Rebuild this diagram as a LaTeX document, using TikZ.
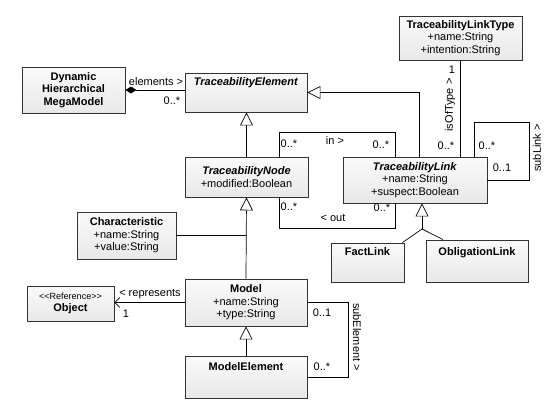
\documentclass[tikz,border=0pt]{standalone}
\usepackage{fontspec}
\setmainfont{Liberation Sans}
\usetikzlibrary{arrows.meta,calc,positioning}

\tikzset{
  cls/.style={draw=black!80, line width=0.9pt, top color=black!2, bottom color=black!9,
    align=center, inner sep=3pt},
  headcls/.style 2 args={cls, text height=#1, text depth=#2},
  gen/.style={-{Triangle[open,length=13pt,width=13pt,fill=white]}},
  lbl/.style={inner sep=1pt},
}

\begin{document}
\begin{tikzpicture}[x=1pt,y=-1pt,line width=0.7pt,font=\fontsize{11}{12.5}\selectfont]
\useasboundingbox (0,0) rectangle (558,415);
\node[cls,minimum width=103pt,minimum height=46pt] (dhmm) at (73.5,90) {\textbf{Dynamic}\\\textbf{Hierarchical}\\\textbf{MegaModel}};
\node[headcls={9.5pt}{23.5pt},minimum width=122pt,minimum height=39pt] (te) at (246,92.5) {\textbf{\textit{TraceabilityElement}}};
\node[cls,minimum width=123pt,minimum height=40pt] (tn) at (246.5,177) {\textbf{\textit{TraceabilityNode}}\\+modified:Boolean};
\node[cls,minimum width=144pt,minimum height=46pt] (tl) at (415,180) {\textbf{\textit{TraceabilityLink}}\\+name:String\\+suspect:Boolean};
\node[cls,minimum width=123pt,minimum height=44pt] (tlt) at (460.5,38) {\textbf{TraceabilityLinkType}\\+name:String\\+intention:String};
\node[cls,minimum width=99pt,minimum height=47pt] (char) at (126.5,235.5) {\textbf{Characteristic}\\+name:String\\+value:String};
\node[cls,minimum width=122pt,minimum height=47pt] (model) at (246,302.5) {\textbf{Model}\\+name:String\\+type:String};
\node[cls,minimum width=87pt,minimum height=35pt] (obj) at (70.5,303.5) {{\fontsize{9}{11}\selectfont{<}{<}Reference{>}{>}}\\\textbf{Object}};
\node[headcls={11.5pt}{24.5pt},minimum width=122pt,minimum height=42pt] (me) at (246,377) {\textbf{ModelElement}};
\node[headcls={9.5pt}{23.5pt},minimum width=73pt,minimum height=39pt] (fl) at (367.5,262.5) {\textbf{FactLink}};
\node[headcls={11.5pt}{23.5pt},minimum width=102pt,minimum height=42pt] (ol) at (477,261) {\textbf{ObligationLink}};

\draw[{Diamond[length=11pt,width=7pt]}-] (dhmm.east) -- (dhmm.east -| te.west);
\node[lbl] (elem) at (156,82) {elements >};
\node[lbl] (elemm) at (172,101) {0..*};

\draw[gen] (tn.north) -- (tn.north |- te.south);
\draw[gen] ([xshift=4pt]tl.north) |- (te.east);

\draw ([xshift=33pt]tn.north) -- ++(0,-24) -| ([xshift=-20pt]tl.north);
\node[lbl] (inm1) at (289,144) {0..*};
\node[lbl] (inlab) at (335,141) {in >};
\node[lbl] (inm2) at (381,145) {0..*};
\draw ([xshift=33pt]tn.south) -- ++(0,31) -| ([xshift=-20pt]tl.south);
\node[lbl] (outm1) at (289,207) {0..*};
\node[lbl] (outlab) at (333,218) {< out};
\node[lbl] (outm2) at (382,208) {0..*};

\draw (tlt.south) -- (tlt.south |- tl.north);
\node[lbl] (typem1) at (452,70) {1};
\node[lbl,rotate=90] (typelab) at (450,105) {isOfType >};
\node[lbl] (typem2) at (446,146) {0..*};

\coordinate (slc) at (529,122);
\draw ([xshift=59pt]tl.north) |- (slc) |- (tl.east);
\node[lbl] (subm1) at (487,146) {0..*};
\node[lbl] (subm2) at (502,168) {0..1};
\node[lbl,rotate=90] (sublab) at (537,148) {subLink >};

\coordinate (tlj) at (422,229);
\draw[gen] (tlj) -- (tlj |- tl.south);
\draw ([xshift=-2pt]fl.north east) -- (tlj) -- ([xshift=-34pt]ol.north);

\draw[gen] (model.north) -- (tn.south);
\draw (char.east) -- (char.east -| model.north);

\draw[-{Straight Barb[length=5pt,width=10pt]}] (model.west) -- (model.west -| obj.east);
\node[lbl] (replab) at (150,294) {< represents};
\node[lbl] (repm) at (126,314) {1};

\draw[gen] (me.north) -- (model.south);
\draw (model.east) -- ++(41,0) |- (me.east);
\node[lbl] (selm1) at (322,313) {0..1};
\node[lbl] (selm2) at (322,367) {0..*};
\node[lbl,rotate=-90] (sellab) at (357,337) {subElement >};
\end{tikzpicture}
\end{document}
